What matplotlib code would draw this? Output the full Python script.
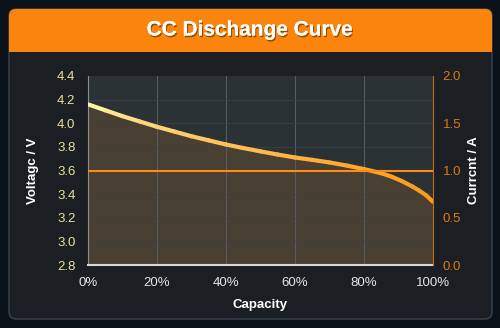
import numpy as np
import matplotlib
matplotlib.use("Agg")
import matplotlib.pyplot as plt
from matplotlib.collections import LineCollection
from matplotlib.patches import FancyBboxPatch, Rectangle
import matplotlib.patheffects as pe

plt.rcParams['font.family'] = ['Liberation Sans', 'DejaVu Sans']

# donnees
capacite = [0, 5, 10, 15, 20, 25, 30, 35, 40, 45, 50, 55, 60, 65, 70, 75, 80, 85, 88, 91, 94, 96, 98, 100]
tension = [4.16, 4.11, 4.06, 4.015, 3.97, 3.93, 3.89, 3.855, 3.82, 3.79, 3.762, 3.735, 3.71, 3.69, 3.668,
           3.642, 3.612, 3.577, 3.548, 3.51, 3.465, 3.43, 3.39, 3.335]
courant = [1.0, 1.0]
courant_x = [0, 100]
ticks_x = [0, 20, 40, 60, 80, 100]
ticks_v = [2.8, 3.0, 3.2, 3.4, 3.6, 3.8, 4.0, 4.2, 4.4]
ticks_a = [0.0, 0.5, 1.0, 1.5, 2.0]

W, H = 500, 328
fig = plt.figure(figsize=(W / 100, H / 100), dpi=100, facecolor="#0b1119")

# panneau de fond
bg = fig.add_axes([0, 0, 1, 1])
bg.set_xlim(0, W)
bg.set_ylim(H, 0)
bg.axis("off")
bg.add_patch(FancyBboxPatch((9, 9), 483, 310, boxstyle="round,pad=0,rounding_size=7",
                            fc="#1b1e22", ec="#3a4450", lw=1))
bg.add_patch(FancyBboxPatch((9, 9), 483, 42, boxstyle="round,pad=0,rounding_size=7",
                            fc="#fb850c", ec="none"))
bg.add_patch(Rectangle((9, 38), 483, 14, fc="#fb850c", ec="none"))
bg.text(W / 2, 30, "CC Dischange Curve", color="white", fontsize=15, fontweight="bold",
        ha="center", va="center",
        path_effects=[pe.withSimplePatchShadow(offset=(0.8, -1.2), shadow_rgbFace="#4a2800", alpha=0.6), pe.Normal()])

# zone du graphe
ax = fig.add_axes([88 / W, (H - 265) / H, 345 / W, 189 / H])
ax.set_facecolor("#2b3236")
ax.set_xlim(0, 100)
ax.set_ylim(2.8, 4.4)

ax.fill_between(capacite, tension, 2.8, color="#4a3f33", lw=0, zorder=1)

# courbe avec degrade jaune -> orange
pts = np.array([capacite, tension], dtype=float).T.reshape(-1, 1, 2)
segs = np.concatenate([pts[:-1], pts[1:]], axis=1)
c1 = np.array([1.0, 0.96, 0.65])
c2 = np.array([1.0, 0.60, 0.10])
t = (np.array(capacite[:-1]) / 100.0) ** 0.6
cols = [tuple(c1 * (1 - a) + c2 * a) for a in t]
ax.add_collection(LineCollection(segs, colors=cols, lw=3, capstyle="round", joinstyle="round", zorder=4))

for xv in ticks_x[1:-1]:
    ax.axvline(xv, color="#565c5f", lw=0.8, zorder=2)
for yv in ticks_v[1:-1]:
    ax.axhline(yv, color="#3b4245", lw=0.6, zorder=2)

ax.set_xticks(ticks_x)
ax.set_xticklabels([f"{v}%" for v in ticks_x])
ax.set_yticks(ticks_v)
ax.set_yticklabels([f"{v:.1f}" for v in ticks_v])
ax.tick_params(axis="x", colors="#e6e6e6", labelsize=9.5, length=0, pad=9)
ax.tick_params(axis="y", colors="#e8e0a0", labelsize=9.5, length=0, pad=9)
ax.set_xlabel("Capacity", color="white", fontsize=9.5, fontweight="bold", labelpad=7)
ax.set_ylabel("Voltagc / V", color="white", fontsize=9.5, fontweight="bold", labelpad=13)

ax.spines["top"].set_visible(False)
ax.spines["left"].set_color("#8a8f92")
ax.spines["bottom"].set_color("#d8d8d8")
ax.spines["bottom"].set_linewidth(1.5)
ax.spines["right"].set_visible(False)

ax2 = ax.twinx()
ax2.set_ylim(0, 2)
ax2.plot(courant_x, courant, color="#ff8c10", lw=1.5, zorder=3)
ax2.set_yticks(ticks_a)
ax2.set_yticklabels([f"{v:.1f}" for v in ticks_a])
ax2.tick_params(axis="y", colors="#e07a10", labelsize=9.5, length=0, pad=7)
ax2.set_ylabel("Currcnt / A", color="white", fontsize=9.5, fontweight="bold", labelpad=5)
for s in ["top", "left", "bottom"]:
    ax2.spines[s].set_visible(False)
ax2.spines["right"].set_color("#c86a10")

fig.savefig("out.png", dpi=100, facecolor=fig.get_facecolor())
